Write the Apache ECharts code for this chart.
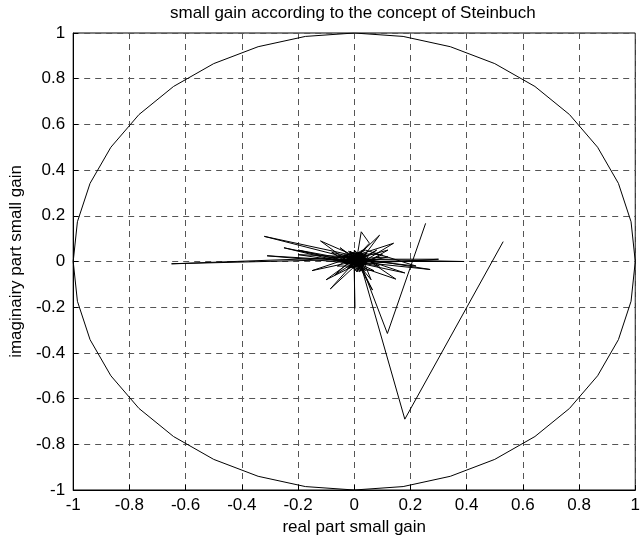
<!DOCTYPE html>
<html lang="en">
<head>
    <meta charset="utf-8">
    <title>ECharts</title>
    <script src="https://cdn.jsdelivr.net/npm/echarts@6/dist/echarts.min.js"></script>
</head>
<body style="margin:0;">
<div id="main" style="width: 643px;height:541px;"></div>
<script type="text/javascript">
    // unit circle, 10 degree steps
    var circleRe = [1, 0.985, 0.940, 0.866, 0.766, 0.643, 0.5, 0.342, 0.174, 0,
        -0.174, -0.342, -0.5, -0.643, -0.766, -0.866, -0.940, -0.985, -1,
        -0.985, -0.940, -0.866, -0.766, -0.643, -0.5, -0.342, -0.174, 0,
        0.174, 0.342, 0.5, 0.643, 0.766, 0.866, 0.940, 0.985, 1];
    var circleIm = [0, 0.174, 0.342, 0.5, 0.643, 0.766, 0.866, 0.940, 0.985, 1,
        0.985, 0.940, 0.866, 0.766, 0.643, 0.5, 0.342, 0.174, 0,
        -0.174, -0.342, -0.5, -0.643, -0.766, -0.866, -0.940, -0.985, -1,
        -0.985, -0.940, -0.866, -0.766, -0.643, -0.5, -0.342, -0.174, 0];

    // small gain trace
    var gainRe = [0.254, 0.118, 0.02, 0.39, 0.01, -0.65, 0.02, -0.32, 0.03, -0.31,
        0.02, 0.14, -0.01, 0.27, 0.00, -0.15, 0.02, 0.148, -0.01, -0.12,
        0.01, 0.025, 0.054, 0.00, 0.09, 0.02, -0.085, 0.01, 0.065, 0.00,
        0.002, 0.00, 0.03, -0.02, 0.04, -0.03, 0.02, 0.05, -0.04, 0.00,
        0.03, -0.01, 0.04, -0.03, 0.02, -0.08, 0.03, 0.08, -0.02, -0.07,
        0.01, 0.09, -0.01, -0.10, 0.02, 0.06, 0.00, -0.05, 0.03, 0.10,
        0.01, -0.02, 0.035, -0.025, 0.015, 0.045, -0.035, 0.005, 0.03, -0.06,
        0.04, 0.22, 0.00, 0.30, 0.02, -0.20, 0.01, 0.18, -0.01, -0.25,
        0.02, 0.12, 0.00, -0.10, 0.03, -0.02, 0.04, -0.035, 0.01, 0.045,
        -0.02, 0.03, -0.04, 0.02, 0.05, -0.01, 0.035, -0.03, 0.025, -0.015,
        0.04, -0.04, 0.01, 0.03, -0.025, 0.045, 0.0, 0.02,
        0.07, -0.015, 0.12, 0.01, -0.2, 0.02, 0.18, 0.53];
    var gainIm = [0.167, -0.315, 0.00, 0.00, 0.01, -0.01, 0.02, 0.11, 0.00, 0.025,
        -0.01, 0.08, 0.02, -0.035, 0.00, -0.04, 0.03, -0.077, -0.01, 0.09,
        0.02, 0.13, 0.08, 0.01, 0.115, 0.00, -0.12, 0.01, -0.125, 0.02,
        -0.205, -0.01, -0.02, 0.02, 0.03, -0.01, 0.04, 0.00, 0.02, -0.03,
        0.02, 0.04, -0.03, 0.03, -0.04, 0.04, 0.01, 0.05, -0.02, -0.06,
        0.03, -0.02, 0.00, 0.01, 0.04, -0.08, 0.01, 0.06, -0.01, 0.03,
        0.035, -0.03, 0.015, 0.03, -0.035, 0.01, 0.02, 0.045, -0.02, -0.02,
        0.05, -0.02, 0.01, 0.01, -0.01, 0.03, 0.02, -0.05, 0.00, 0.06,
        -0.02, 0.05, 0.01, -0.08, 0.00, 0.045, -0.04, 0.03, -0.045, 0.04,
        -0.03, 0.05, 0.00, -0.045, 0.025, 0.04, -0.02, 0.03, -0.04, 0.045,
        0.0, 0.02, -0.045, 0.035, -0.03, -0.01, 0.05, -0.035,
        -0.04, 0.01, 0.02, -0.01, 0.05, 0.00, -0.69, 0.087];

    var xTicks = { min: -1, max: 1, interval: 0.2 };
    var yTicks = { min: -1, max: 1, interval: 0.2 };

    var fontName = 'Liberation Sans';
    var fontSize = 17;

    function pairs(re, im) {
        var out = [];
        for (var i = 0; i < re.length; i++) {
            out.push([re[i], im[i]]);
        }
        return out;
    }

    var myChart = echarts.init(document.getElementById('main'));

    var axisCommon = {
        type: 'value',
        axisLine: { show: true, onZero: false, lineStyle: { color: '#000', width: 1 } },
        axisTick: { show: true, inside: true, length: 5, lineStyle: { color: '#000' } },
        splitLine: { show: true, lineStyle: { type: [6, 5], color: '#555', width: 1 } },
        axisLabel: { color: '#000', fontFamily: fontName, fontSize: fontSize },
        nameLocation: 'middle',
        nameTextStyle: { color: '#000', fontFamily: fontName, fontSize: fontSize }
    };

    option = {
        animation: false,
        backgroundColor: '#fff',
        title: {
            text: 'small gain according to the concept of Steinbuch',
            left: 170,
            top: 3,
            padding: [2, 0],
            textStyle: { color: '#000', fontFamily: fontName, fontSize: fontSize, fontWeight: 'normal' }
        },
        grid: {
            left: 69, right: 2, top: 33, bottom: 51,
            show: true, borderColor: '#000', borderWidth: 1
        },
        xAxis: echarts.util.merge({
            min: xTicks.min, max: xTicks.max, interval: xTicks.interval,
            name: 'real part small gain',
            nameGap: 29,
            axisLabel: { margin: 7 }
        }, axisCommon),
        yAxis: echarts.util.merge({
            min: yTicks.min, max: yTicks.max, interval: yTicks.interval,
            name: 'imaginairy part small gain',
            nameGap: 45,
            axisLabel: { margin: 8 }
        }, axisCommon),
        series: [{
            type: 'line',
            data: pairs(circleRe, circleIm),
            showSymbol: false,
            symbol: 'none',
            lineStyle: { color: '#000', width: 1 }
        }, {
            type: 'line',
            data: pairs(gainRe, gainIm),
            showSymbol: false,
            symbol: 'none',
            lineStyle: { color: '#000', width: 1 }
        }]
    };

    myChart.setOption(option);
</script>
</body>
</html>
